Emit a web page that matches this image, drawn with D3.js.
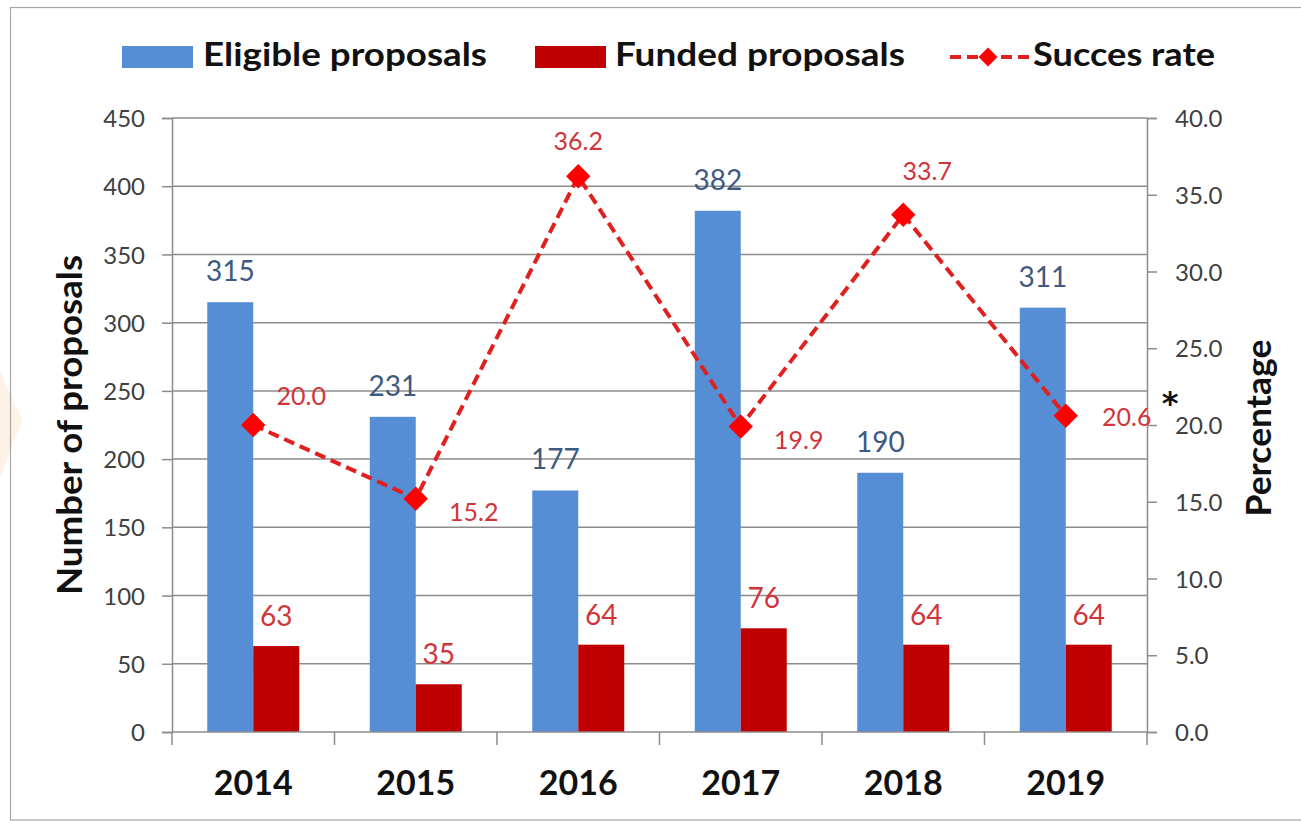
<!DOCTYPE html>
<html>
<head>
<meta charset="utf-8">
<script src="https://cdn.jsdelivr.net/npm/d3@7"></script>
<style>
  html, body { margin: 0; padding: 0; background: #fff; }
  svg { display: block; font-family: Lato, "Open Sans", sans-serif; }
</style>
</head>
<body>
<svg id="chart" width="1301" height="823"></svg>
<script>
// ---- data ----
const years = ["2014", "2015", "2016", "2017", "2018", "2019"];
const eligible = [315, 231, 177, 382, 190, 311];
const funded = [63, 35, 64, 76, 64, 64];
const successRate = [20.0, 15.2, 36.2, 19.9, 33.7, 20.6];
const leftTicks = [0, 50, 100, 150, 200, 250, 300, 350, 400, 450];
const rightTicks = [0, 5, 10, 15, 20, 25, 30, 35, 40];
const seriesNames = ["Eligible proposals", "Funded proposals", "Succes rate"];
const rateLabelSpot = ["upperRight", "lowerRight", "above", "lowerRight", "aboveRight", "right"];

// ---- style / layout ----
const spotOffset = {
  upperRight: [48, -20], lowerRight: [58, 22], above: [0, -26],
  aboveRight: [24, -35], right: [61, 10]
};
const C = {
  blue: "#558ed5", red: "#c00000", line: "#e0201f", marker: "#ff0000",
  blueLbl: "#3e5a80", redLbl: "#d0353a", grid: "#8c8c8c", tick: "#404040"
};
const M = { left: 172, right: 1147, top: 118, bottom: 732 };

const svg = d3.select("#chart");

// faint watermark remnant at left edge
svg.append("path")
  .attr("d", "M0,372 L22,420 L0,478 Z")
  .attr("fill", "#fbe6cc").attr("opacity", 0.5);

// outer border
svg.append("rect")
  .attr("x", 10.5).attr("y", 7.5).attr("width", 1300).attr("height", 812.5)
  .attr("fill", "none").attr("stroke", "#a6a6a6").attr("stroke-width", 1.2);

const x = d3.scaleBand().domain(years).range([M.left, M.right])
  .paddingInner(0.434).paddingOuter(0.217);
const xs = d3.scaleBand().domain(["e", "f"]).range([0, x.bandwidth()]);
const y = d3.scaleLinear().domain([0, 450]).range([M.bottom, M.top]);
const y2 = d3.scaleLinear().domain([0, 40]).range([M.bottom, M.top]);
const cx = d => x(d) + x.bandwidth() / 2;

// gridlines
svg.append("g").selectAll("line").data(leftTicks.filter(t => t > 0)).join("line")
  .attr("x1", M.left).attr("x2", M.right)
  .attr("y1", d => y(d)).attr("y2", d => y(d))
  .attr("stroke", C.grid).attr("stroke-width", 1.5);

// left axis
const gL = svg.append("g").attr("transform", `translate(${M.left},0)`)
  .call(d3.axisLeft(y).tickValues(leftTicks).tickSize(10).tickPadding(17).tickFormat(d3.format("d")));
// right axis
const gR = svg.append("g").attr("transform", `translate(${M.right},0)`)
  .call(d3.axisRight(y2).tickValues(rightTicks).tickSize(10).tickPadding(18).tickFormat(d3.format(".1f")));
[gL, gR].forEach(g => {
  g.select(".domain").attr("stroke", C.grid).attr("stroke-width", 1.5);
  g.selectAll(".tick line").attr("stroke", C.grid).attr("stroke-width", 1.5);
  g.selectAll(".tick text").attr("fill", C.tick).attr("font-size", 24)
    .attr("font-family", "Lato").attr("dy", "0.36em");
});

// bars
const groups = svg.append("g").selectAll("g").data(years).join("g")
  .attr("transform", d => `translate(${x(d)},0)`);
groups.append("rect")
  .attr("x", xs("e")).attr("width", xs.bandwidth())
  .attr("y", (d, i) => y(eligible[i])).attr("height", (d, i) => y(0) - y(eligible[i]))
  .attr("fill", C.blue);
groups.append("rect")
  .attr("x", xs("f")).attr("width", xs.bandwidth())
  .attr("y", (d, i) => y(funded[i])).attr("height", (d, i) => y(0) - y(funded[i]))
  .attr("fill", C.red);

// bottom axis
const gB = svg.append("g").attr("transform", `translate(0,${M.bottom})`);
gB.append("line").attr("x1", M.left).attr("x2", M.right)
  .attr("stroke", C.grid).attr("stroke-width", 1.5);
const bounds = years.map(d => x(d) - x.step() * x.paddingInner() / 2).concat([M.right]);
gB.selectAll("line.tk").data(bounds).join("line").attr("class", "tk")
  .attr("x1", d => d).attr("x2", d => d).attr("y1", 0).attr("y2", 13)
  .attr("stroke", C.grid).attr("stroke-width", 1.5);
gB.selectAll("text").data(years).join("text")
  .attr("x", d => cx(d)).attr("y", 63)
  .attr("text-anchor", "middle").attr("font-weight", 700).attr("font-size", 34)
  .attr("fill", "#111").text(d => d);

// bar labels
groups.append("text")
  .attr("x", xs("e") + xs.bandwidth() / 2).attr("y", (d, i) => y(eligible[i]) - 21)
  .attr("text-anchor", "middle").attr("font-size", 28).attr("fill", C.blueLbl)
  .text((d, i) => eligible[i]);
groups.append("text")
  .attr("x", xs("f") + xs.bandwidth() / 2).attr("y", (d, i) => y(funded[i]) - 20)
  .attr("text-anchor", "middle").attr("font-size", 28).attr("fill", C.redLbl)
  .text((d, i) => funded[i]);

// success rate line
const pts = years.map((d, i) => [cx(d), y2(successRate[i])]);
svg.append("path").attr("d", d3.line()(pts))
  .attr("fill", "none").attr("stroke", C.line).attr("stroke-width", 4)
  .attr("stroke-dasharray", "11,6");
const diamond = d3.symbol().type(d3.symbolDiamond2).size(380);
svg.append("g").selectAll("path").data(pts).join("path")
  .attr("d", diamond).attr("transform", d => `translate(${d[0]},${d[1]})`)
  .attr("fill", C.marker);
svg.append("g").selectAll("text").data(pts).join("text")
  .attr("x", (d, i) => d[0] + spotOffset[rateLabelSpot[i]][0])
  .attr("y", (d, i) => d[1] + spotOffset[rateLabelSpot[i]][1])
  .attr("text-anchor", "middle").attr("font-size", 25).attr("fill", C.redLbl)
  .text((d, i) => d3.format(".1f")(successRate[i]));

// axis titles
svg.append("text").attr("transform", "translate(82,425) rotate(-90)")
  .attr("text-anchor", "middle").attr("font-weight", 700).attr("font-size", 34)
  .attr("textLength", 340).attr("lengthAdjust", "spacingAndGlyphs")
  .attr("fill", "#111").text("Number of proposals");
svg.append("text").attr("transform", "translate(1271,428) rotate(-90)")
  .attr("text-anchor", "middle").attr("font-weight", 700).attr("font-size", 34)
  .attr("textLength", 177).attr("lengthAdjust", "spacingAndGlyphs")
  .attr("fill", "#111").text("Percentage");
svg.append("text").attr("x", 1170).attr("y", 414)
  .attr("text-anchor", "middle").attr("font-weight", 700).attr("font-size", 32)
  .attr("font-family", "DejaVu Sans")
  .attr("fill", "#111").text("*");

// legend
const leg = svg.append("g");
const legItems = [
  { name: seriesNames[0], kind: "bar", color: C.blue, x0: 122, tx: 203, w: 284 },
  { name: seriesNames[1], kind: "bar", color: C.red, x0: 535, tx: 615, w: 290 },
  { name: seriesNames[2], kind: "line", color: C.line, x0: 950, tx: 1033, w: 182 }
];
legItems.forEach(it => {
  if (it.kind === "bar") {
    leg.append("rect").attr("x", it.x0).attr("y", 46).attr("width", 71).attr("height", 22)
      .attr("fill", it.color);
  } else {
    leg.append("line").attr("x1", it.x0).attr("x2", it.x0 + 80).attr("y1", 57).attr("y2", 57)
      .attr("stroke", it.color).attr("stroke-width", 4).attr("stroke-dasharray", "11,6");
    leg.append("path").attr("d", d3.symbol().type(d3.symbolDiamond2).size(230))
      .attr("transform", `translate(${it.x0 + 38},57)`).attr("fill", C.marker);
  }
  leg.append("text").attr("x", it.tx).attr("y", 66)
    .attr("font-weight", 700).attr("font-size", 33)
    .attr("textLength", it.w).attr("lengthAdjust", "spacingAndGlyphs")
    .attr("fill", "#111").text(it.name);
});
</script>
</body>
</html>
